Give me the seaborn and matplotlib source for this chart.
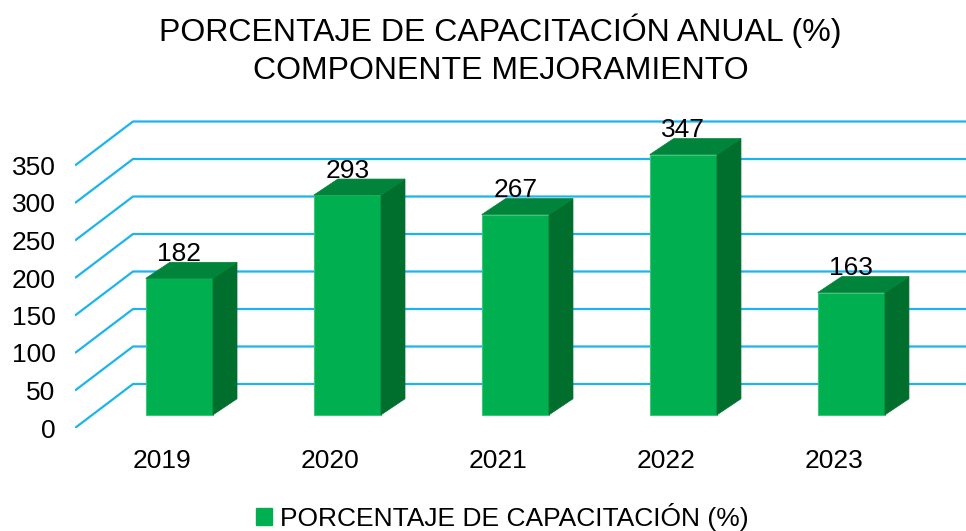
import matplotlib
matplotlib.use("Agg")
import matplotlib.pyplot as plt
import seaborn as sns
from matplotlib.patches import Polygon, Patch

# data
years = ['2019', '2020', '2021', '2022', '2023']
values = [182, 293, 267, 347, 163]
yticks = [0, 50, 100, 150, 200, 250, 300, 350]
title = 'PORCENTAJE DE CAPACITACIÓN ANUAL (%)\nCOMPONENTE MEJORAMIENTO'
series_name = 'PORCENTAJE DE CAPACITACIÓN (%)'

front_col = '#00B050'
top_col = '#00843B'
side_col = '#006F2E'
grid_col = '#1CB4EC'

sns.set_style('white')
plt.rcParams['font.family'] = ['Liberation Sans', 'DejaVu Sans']
plt.rcParams['text.color'] = 'black'
plt.rcParams['xtick.color'] = 'black'
plt.rcParams['ytick.color'] = 'black'

fig = plt.figure(figsize=(9.66, 5.31), dpi=100)
ax = fig.add_axes([75 / 966, 103 / 531, 891 / 966, 307.5 / 531])

# depth of the floor (front wall -> back wall) in data units
floor_dx, floor_dy = 58 / 168, 44 / 0.75
# depth of a single bar
bar_dx, bar_dy = 24 / 168, 16 / 0.75
bar_front = 0.3  # bar front face sits at 30% of the floor depth

xmin, xmax = -0.518, 4.786

# gridlines: left wall diagonal + back wall horizontal
for v in yticks:
    ax.plot([xmin, xmin + floor_dx, xmax], [v, v + floor_dy, v + floor_dy],
            color=grid_col, lw=1.6, zorder=1, solid_capstyle='butt')

sns.barplot(x=years, y=values, color=front_col, saturation=1, width=0.4,
            ax=ax, zorder=3, edgecolor='#3CC67A', linewidth=0.8)

for p, val in zip(ax.patches, values):
    p.set_x(p.get_x() + bar_front * floor_dx)
    p.set_y(bar_front * floor_dy)
    x0 = p.get_x()
    x1 = x0 + p.get_width()
    y0 = p.get_y()
    y1 = y0 + p.get_height()
    side = Polygon([(x1, y0), (x1 + bar_dx, y0 + bar_dy), (x1 + bar_dx, y1 + bar_dy), (x1, y1)],
                   closed=True, facecolor=side_col, edgecolor=side_col, lw=0.5, zorder=3)
    top = Polygon([(x0, y1), (x1, y1), (x1 + bar_dx, y1 + bar_dy), (x0 + bar_dx, y1 + bar_dy)],
                  closed=True, facecolor=top_col, edgecolor=top_col, lw=0.5, zorder=3)
    ax.add_patch(side)
    ax.add_patch(top)
    ax.text((x0 + x1) / 2, y1 + bar_dy - 5, str(val), ha='center', va='bottom',
            fontsize=19, color='black', zorder=5)

ax.set_xlim(xmin, xmax)
ax.set_ylim(0, 410)
ax.set_yticks(yticks)
ax.set_yticklabels([str(t) for t in yticks], fontsize=19)
ax.tick_params(axis='y', length=0, pad=14)
ax.tick_params(axis='x', length=0, pad=15, labelsize=19)
ax.set_xlabel('')
ax.set_ylabel('')
sns.despine(ax=ax, left=True, bottom=True)
ax.patch.set_alpha(0)

fig.text(0.518, 0.975, title, ha='center', va='top', fontsize=23, linespacing=1.35)

handle = Patch(facecolor=front_col, edgecolor=front_col)
fig.legend([handle], [series_name], loc='center', bbox_to_anchor=(0.52, 0.027),
           frameon=False, fontsize=19, handlelength=0.6, handleheight=0.6,
           handletextpad=0.3)

fig.savefig('out.png', dpi=100)
